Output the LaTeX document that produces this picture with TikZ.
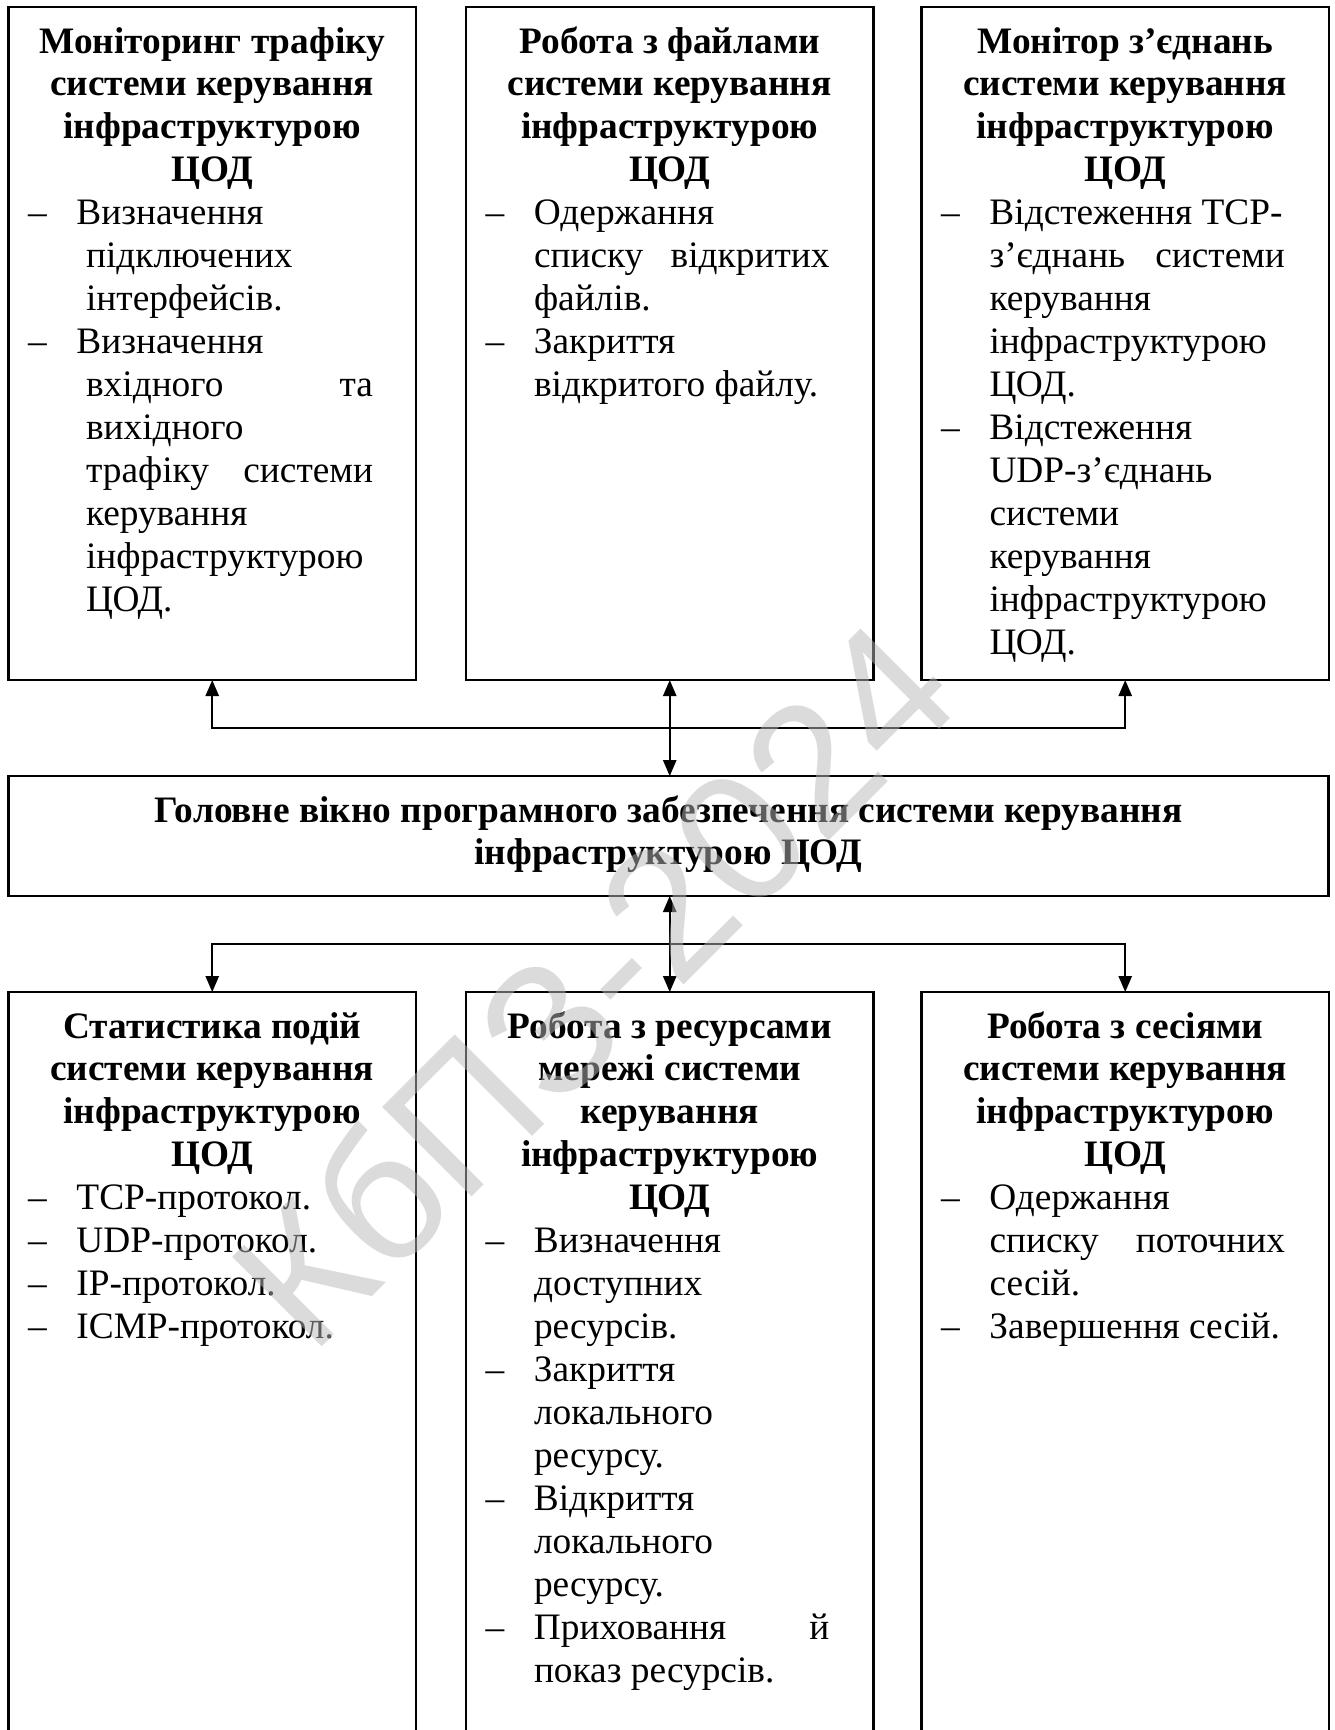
\documentclass[tikz,border=0pt]{standalone}
\usepackage{fontspec}
\setmainfont{Liberation Serif}
\newfontfamily\wmfont{Liberation Sans}
\usepackage{tikz}
\usetikzlibrary{arrows.meta}

\newcommand{\dashitem}[1]{\hspace*{7.4pt}\makebox[18.1pt][l]{–}#1}
\newcommand{\nextln}[1]{\hspace*{25.5pt}#1}
\newcommand{\nextlnb}[1]{\hspace*{29.1pt}#1}
\newcommand{\boxtitle}{\centering\bfseries\rule{0pt}{17.25pt}}
\newcommand{\boxbody}{\par\raggedright\mdseries}

\begin{document}
\begin{tikzpicture}[x=0.375pt,y=0.375pt,yscale=-1,xscale=1,
  font=\fontsize{14pt}{16.1pt}\selectfont,
  box/.style={draw,line width=0.8pt,inner sep=0pt,outer sep=0pt,anchor=north west},
  link/.style={line width=0.6pt,-{Triangle[length=6pt,width=5pt]}},
  dlink/.style={line width=0.6pt,{Triangle[length=6pt,width=5pt]}-{Triangle[length=6pt,width=5pt]}},
  watermark/.style={font=\fontsize{69pt}{69pt}\selectfont\wmfont,text=black!28,text opacity=0.5,rotate=45}]
%set diagram left start at 0, and has height of 1730
\useasboundingbox (0,0) rectangle (1335,1730);
\clip (0,0) rectangle (1335,1730);

%Shape: Rectangle [traffic]
\node[box] (traffic) at (8.5,7) {\parbox[t][252.4pt][t]{152.8pt}{\boxtitle
Моніторинг трафіку\\системи керування\\інфраструктурою\\ЦОД\boxbody
\dashitem{Визначення}\\
\nextlnb{підключених}\\
\nextlnb{інтерфейсів.}\\
\dashitem{Визначення}\\
\nextlnb{\makebox[107.6pt][l]{вхідного\hfill та}}\\
\nextlnb{вихідного}\\
\nextlnb{\makebox[107.6pt][l]{трафіку\hfill системи}}\\
\nextlnb{керування}\\
\nextlnb{інфраструктурою}\\
\nextlnb{ЦОД.}}};

%Shape: Rectangle [files]
\node[box] (files) at (466,7) {\parbox[t][252.4pt][t]{152.8pt}{\boxtitle
Робота з файлами\\системи керування\\інфраструктурою\\ЦОД\boxbody
\dashitem{Одержання}\\
\nextln{\makebox[110.8pt][l]{списку\hfill відкритих}}\\
\nextln{файлів.}\\
\dashitem{Закриття}\\
\nextln{відкритого файлу.}}};

%Shape: Rectangle [conn]
\node[box] (conn) at (921.5,7) {\parbox[t][252.4pt][t]{152.8pt}{\boxtitle
Монітор з’єднань\\системи керування\\інфраструктурою\\ЦОД\boxbody
\dashitem{Відстеження TCP-}\\
\nextln{\makebox[110.8pt][l]{з’єднань\hfill системи}}\\
\nextln{керування}\\
\nextln{інфраструктурою}\\
\nextln{ЦОД.}\\
\dashitem{Відстеження}\\
\nextln{UDP-з’єднань}\\
\nextln{системи}\\
\nextln{керування}\\
\nextln{інфраструктурою}\\
\nextln{ЦОД.}}};

%Shape: Rectangle [mainwin]
\node[box] (mainwin) at (8.5,776) {\parbox[t][45pt][t]{495pt}{\boxtitle
Головне вікно програмного забезпечення системи керування\\інфраструктурою ЦОД}};

%Shape: Rectangle [stats]
\node[box] (stats) at (8.5,992) {\parbox[t][282.4pt][t]{152.8pt}{\boxtitle
Статистика подій\\системи керування\\інфраструктурою\\ЦОД\boxbody
\dashitem{TCP-протокол.}\\
\dashitem{UDP-протокол.}\\
\dashitem{IP-протокол.}\\
\dashitem{ICMP-протокол.}}};

%Shape: Rectangle [res]
\node[box] (res) at (466,992) {\parbox[t][282.4pt][t]{152.8pt}{\boxtitle
Робота з ресурсами\\мережі системи\\керування\\інфраструктурою\\ЦОД\boxbody
\dashitem{Визначення}\\
\nextln{доступних}\\
\nextln{ресурсів.}\\
\dashitem{Закриття}\\
\nextln{локального}\\
\nextln{ресурсу.}\\
\dashitem{Відкриття}\\
\nextln{локального}\\
\nextln{ресурсу.}\\
\dashitem{\makebox[110.8pt][l]{Приховання\hfill й}}\\
\nextln{показ ресурсів.}}};

%Shape: Rectangle [sess]
\node[box] (sess) at (921.5,992) {\parbox[t][282.4pt][t]{152.8pt}{\boxtitle
Робота з сесіями\\системи керування\\інфраструктурою\\ЦОД\boxbody
\dashitem{Одержання}\\
\nextln{\makebox[110.8pt][l]{списку\hfill поточних}}\\
\nextln{сесій.}\\
\dashitem{Завершення сесій.}}};

%Straight Lines [upper bus]
\coordinate (topbus) at (0,728);
\draw[dlink] (mainwin.north -| files.south) -- (files.south);
\draw[link] (files.south |- topbus) -| (traffic.south);
\draw[link] (files.south |- topbus) -| (conn.south);

%Straight Lines [lower bus]
\coordinate (botbus) at (0,944);
\draw[dlink] (mainwin.south -| res.north) -- (res.north);
\draw[link] (res.north |- botbus) -| (stats.north);
\draw[link] (res.north |- botbus) -| (sess.north);

% Text Node
\node[watermark] (stamp) at (592,983) {КбПЗ-2024};

\end{tikzpicture}
\end{document}
